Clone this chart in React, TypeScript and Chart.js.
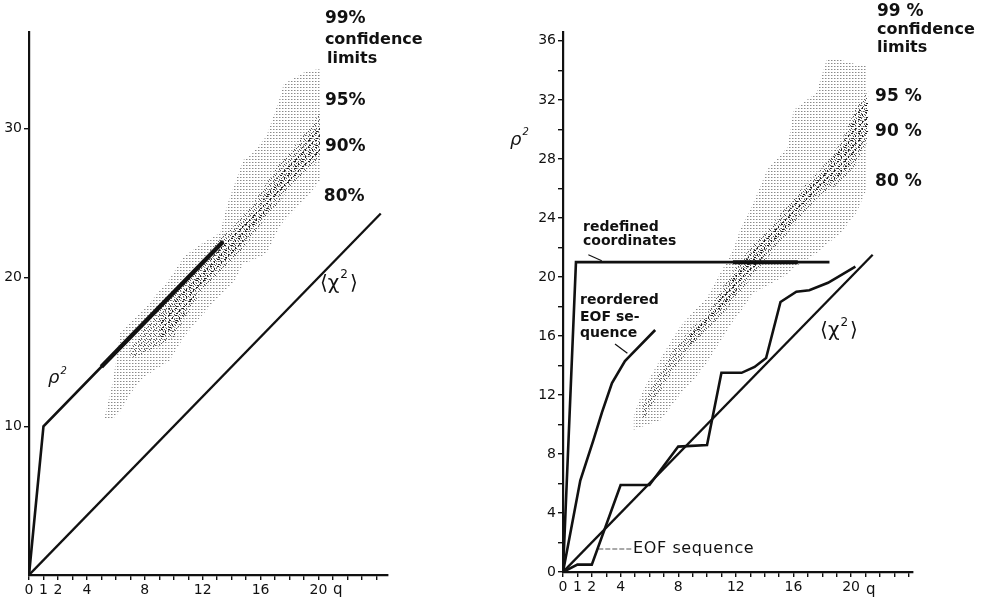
import React, { useEffect, useRef } from 'react';
import { Chart, registerables } from 'chart.js';
Chart.register(...registerables);

// ---------------- axis ticks ----------------
const xTickValues = [0, 1, 2, 3, 4, 5, 6, 7, 8, 9, 10, 11, 12, 13, 14, 15, 16, 17, 18, 19, 20, 21, 22, 23, 24];
const xLabeledValues = [0, 1, 2, 4, 8, 12, 16, 20];
const leftYTickValues = [10, 20, 30];
const leftYLabeledValues = [10, 20, 30];
const rightYTickValues = [0, 2, 4, 6, 8, 10, 12, 14, 16, 18, 20, 22, 24, 26, 28, 30, 32, 34, 36];
const rightYLabeledValues = [0, 4, 8, 12, 16, 20, 24, 28, 32, 36];

// ---------------- left panel data ----------------
const leftRhoQ = [0, 1, 13.4];
const leftRhoV = [0, 10, 22.4];
const leftRhoHeavyQ = [5, 13.4];
const leftRhoHeavyV = [14, 22.4];
const leftChiQ = [0, 24.3];
const leftChiV = [0, 24.3];

const leftB99Q = [5.2, 5.8, 6.3, 7.0, 7.9, 9.7, 10.7, 11.8, 13.2, 13.7, 14.1, 14.8, 15.3, 16.4, 17.3, 17.6, 19.2, 20.1];
const leftB99Hi = [10.5, 13.0, 16.3, 17.0, 17.8, 19.9, 21.4, 22.2, 23.0, 24.9, 26.0, 27.9, 28.2, 29.5, 32.0, 33.0, 33.9, 34.0];
const leftB99Lo = [10.5, 10.5, 11.0, 12.2, 13.3, 14.4, 16.0, 17.3, 18.8, 19.3, 19.6, 20.9, 21.1, 21.6, 23.4, 23.8, 25.4, 26.5];

const leftB95Q = [7.0, 8.0, 9.0, 10.0, 11.1, 11.8, 13.4, 14.1, 15.3, 16.2, 17.1, 18.0, 19.0, 20.1];
const leftB95Hi = [15.2, 16.6, 17.8, 18.9, 20.3, 21.0, 22.8, 23.4, 24.7, 26.0, 27.4, 28.4, 29.6, 31.0];
const leftB95Lo = [14.6, 14.9, 15.4, 16.0, 17.8, 18.9, 20.5, 21.1, 22.6, 23.8, 24.8, 26.1, 27.0, 27.9];

const leftB90Q = [9.0, 10.0, 11.8, 13.4, 15.3, 17.1, 19.0, 20.1];
const leftB90Hi = [17.3, 18.3, 20.3, 22.2, 24.0, 26.6, 28.9, 30.2];
const leftB90Lo = [15.8, 16.4, 19.3, 20.9, 23.0, 25.3, 27.4, 28.3];

// ---------------- right panel data ----------------
const rightChiQ = [0, 21.5];
const rightChiV = [0, 21.5];
const rightRedefQ = [0, 0.9, 18.5];
const rightRedefV = [0, 21, 21];
const rightRedefHeavyQ = [11.8, 16.3];
const rightRedefHeavyV = [21, 21];
const rightReordQ = [0, 1.2, 2.1, 2.7, 3.4, 4.3, 4.7, 6.4];
const rightReordV = [0, 6.2, 8.9, 10.8, 12.8, 14.3, 14.7, 16.4];
const rightEofQ = [0, 1, 2, 4, 6, 8, 10, 11, 12.4, 13.3, 14.1, 15.1, 16.2, 17.1, 18.4, 20.3];
const rightEofV = [0, 0.5, 0.5, 5.9, 5.9, 8.5, 8.6, 13.5, 13.5, 13.9, 14.5, 18.3, 19.0, 19.1, 19.6, 20.7];

const rightB99Q = [4.9, 5.6, 6.8, 8.1, 9.3, 10.0, 11.8, 12.3, 13.2, 14.2, 15.6, 16.0, 17.6, 18.3, 19.3, 20.4, 21.1];
const rightB99Hi = [10.6, 12.4, 14.5, 16.6, 17.9, 18.6, 21.8, 23.2, 25.0, 27.3, 28.8, 31.3, 32.5, 34.7, 34.7, 34.4, 34.3];
const rightB99Lo = [9.6, 9.9, 10.3, 12.0, 13.3, 14.2, 17.0, 17.6, 18.9, 19.4, 20.2, 20.6, 21.6, 22.2, 23.0, 24.4, 26.0];

const rightB95Q = [5.5, 6.3, 7.7, 8.8, 10.0, 11.1, 12.4, 13.5, 14.8, 16.5, 17.9, 19.3, 20.3, 21.2];
const rightB95Hi = [11.2, 12.8, 15.1, 16.4, 17.5, 19.3, 21.2, 22.5, 23.9, 25.9, 27.3, 29.1, 31.4, 32.6];
const rightB95Lo = [10.2, 11.5, 13.8, 15.1, 16.4, 17.5, 19.1, 20.5, 22.0, 24.1, 25.6, 26.4, 27.6, 29.3];

const rightB90Q = [8.8, 10.0, 11.1, 12.4, 13.5, 14.8, 16.5, 17.9, 19.3, 20.3, 21.2];
const rightB90Hi = [16.1, 17.2, 18.9, 20.8, 22.1, 23.5, 25.5, 27.0, 28.7, 31.0, 32.2];
const rightB90Lo = [15.4, 16.7, 17.9, 19.5, 20.9, 22.4, 24.5, 25.9, 26.9, 28.2, 29.8];

// leader lines (annotation pointers)
const leaderRedefQ = [1.76, 2.69];
const leaderRedefV = [21.5, 21.1];
const leaderReordQ = [3.61, 4.47];
const leaderReordV = [15.46, 14.83];
const leaderEofQ = [2.45, 4.77];
const leaderEofV = [1.56, 1.56];

// ---------------- text annotations ----------------
type TextItem = { text: string; sup?: string; after?: string; q: number; v: number; size: number; bold?: boolean; italic?: boolean; spacing?: number };

const leftTexts: TextItem[] = [
  { text: '99%', q: 20.44, v: 37.43, size: 17, bold: true },
  { text: 'confidence', q: 20.44, v: 35.95, size: 16, bold: true },
  { text: 'limits', q: 20.58, v: 34.68, size: 16, bold: true },
  { text: '95%', q: 20.44, v: 31.92, size: 17, bold: true },
  { text: '90%', q: 20.44, v: 28.83, size: 17, bold: true },
  { text: '80%', q: 20.37, v: 25.47, size: 17, bold: true },
  { text: '⟨χ', sup: '2', after: '⟩', q: 20.1, v: 19.6, size: 20 },
  { text: 'ρ', sup: '2', q: 1.31, v: 13.2, size: 18, italic: true },
  { text: 'q', q: 21.0, v: -1.0, size: 15 },
];

const rightTexts: TextItem[] = [
  { text: '99 %', q: 21.8, v: 37.97, size: 17, bold: true },
  { text: 'confidence', q: 21.8, v: 36.75, size: 16, bold: true },
  { text: 'limits', q: 21.8, v: 35.53, size: 16, bold: true },
  { text: '95 %', q: 21.67, v: 32.2, size: 17, bold: true },
  { text: '90 %', q: 21.67, v: 29.83, size: 17, bold: true },
  { text: '80 %', q: 21.67, v: 26.44, size: 17, bold: true },
  { text: '⟨χ', sup: '2', after: '⟩', q: 17.85, v: 16.34, size: 20 },
  { text: 'redefined', q: 1.39, v: 23.39, size: 14, bold: true },
  { text: 'coordinates', q: 1.39, v: 22.44, size: 14, bold: true },
  { text: 'reordered', q: 1.18, v: 18.44, size: 14, bold: true },
  { text: 'EOF se-', q: 1.18, v: 17.29, size: 14, bold: true },
  { text: 'quence', q: 1.18, v: 16.2, size: 14, bold: true },
  { text: 'EOF sequence', q: 4.86, v: 1.56, size: 16, spacing: 0.6 },
  { text: 'ρ', sup: '2', q: -3.68, v: 29.29, size: 18, italic: true },
  { text: 'q', q: 21.04, v: -1.22, size: 15 },
];

const FONT = '"DejaVu Sans", "Liberation Sans", sans-serif';
const INK = '#111';

const textPlugin = {
  id: 'panelTexts',
  afterDraw(chart: any, _args: any, opts: any) {
    const items: TextItem[] = (opts && opts.items) || [];
    const ctx = chart.ctx;
    const xs = chart.scales.x;
    const ys = chart.scales.y;
    ctx.save();
    ctx.fillStyle = INK;
    ctx.textBaseline = 'middle';
    ctx.textAlign = 'left';
    for (const it of items) {
      const f = (s: number) => `${it.italic ? 'italic ' : ''}${it.bold ? 'bold ' : ''}${s}px ${FONT}`;
      let x = xs.getPixelForValue(it.q);
      const y = ys.getPixelForValue(it.v);
      ctx.font = f(it.size);
      (ctx as any).letterSpacing = `${it.spacing || 0}px`;
      ctx.fillText(it.text, x, y);
      x += ctx.measureText(it.text).width;
      (ctx as any).letterSpacing = '0px';
      if (it.sup) {
        ctx.font = f(Math.round(it.size * 0.58));
        ctx.fillText(it.sup, x + 1, y - it.size * 0.42);
        x += ctx.measureText(it.sup).width + 3;
      }
      if (it.after) {
        ctx.font = f(it.size);
        ctx.fillText(it.after, x, y);
      }
    }
    ctx.restore();
  },
};

// ---------------- helpers ----------------
const pts = (q: number[], v: number[]) => q.map((x, i) => ({ x, y: v[i] }));

function makePattern(kind: 'light' | 'medium' | 'dark'): any {
  const c = document.createElement('canvas');
  const g = c.getContext('2d')!;
  if (kind === 'light') {
    c.width = 3; c.height = 3;
    g.fillStyle = '#8a8a8a';
    g.fillRect(0, 0, 1, 1);
    g.fillStyle = '#c8c8c8';
    g.fillRect(1, 0, 1, 1);
  } else if (kind === 'medium') {
    c.width = 5; c.height = 5;
    g.fillStyle = '#555';
    g.fillRect(0, 0, 1, 1);
    g.fillRect(3, 1, 1, 1);
    g.fillRect(1, 3, 1, 1);
    g.fillRect(4, 4, 1, 1);
  } else {
    c.width = 7; c.height = 7;
    g.fillStyle = '#222';
    g.fillRect(0, 0, 2, 1);
    g.fillRect(4, 2, 1, 2);
    g.fillRect(1, 5, 2, 1);
  }
  return g.createPattern(c, 'repeat');
}

const lineDs = (label: string, q: number[], v: number[], width: number, extra: any = {}) => ({
  label,
  data: pts(q, v),
  borderColor: INK,
  borderWidth: width,
  pointRadius: 0,
  tension: 0,
  fill: false,
  ...extra,
});

const bandDs = (label: string, q: number[], hi: number[], lo: number[], pattern: any) => [
  { label: label + ' upper', data: pts(q, hi), borderColor: 'rgba(0,0,0,0)', borderWidth: 1, pointRadius: 0, tension: 0, fill: false },
  { label: label + ' lower', data: pts(q, lo), borderColor: 'rgba(0,0,0,0)', borderWidth: 1, pointRadius: 0, tension: 0, fill: '-1', backgroundColor: pattern },
];

function scales(xMax: number, yMax: number, yTicks: number[], yLabeled: number[], yWidth: number) {
  const tickFont = { family: FONT, size: 14 };
  return {
    x: {
      type: 'linear',
      min: 0,
      max: xMax,
      afterBuildTicks: (s: any) => { s.ticks = xTickValues.map((v) => ({ value: v })); },
      afterFit: (s: any) => { s.height = 26; },
      ticks: {
        autoSkip: false, maxRotation: 0, minRotation: 0, padding: 2, color: INK, font: tickFont,
        callback: (v: any) => (xLabeledValues.includes(Number(v)) ? String(v) : ''),
      },
      grid: { drawOnChartArea: false, drawTicks: true, tickLength: 5, color: INK, lineWidth: 1.4 },
      border: { display: true, color: INK, width: 2.2 },
    },
    y: {
      type: 'linear',
      min: 0,
      max: yMax,
      afterBuildTicks: (s: any) => { s.ticks = yTicks.map((v) => ({ value: v })); },
      afterFit: (s: any) => { s.width = yWidth; },
      ticks: {
        autoSkip: false, padding: 2, color: INK, font: tickFont,
        callback: (v: any) => (yLabeled.includes(Number(v)) ? String(v) : ''),
      },
      grid: { drawOnChartArea: false, drawTicks: true, tickLength: 5, color: INK, lineWidth: 1.4 },
      border: { display: true, color: INK, width: 2.2 },
    },
  };
}

function leftConfig(): any {
  return {
    type: 'line',
    data: {
      datasets: [
        lineDs('ρ² heavy', leftRhoHeavyQ, leftRhoHeavyV, 4.5),
        lineDs('ρ²', leftRhoQ, leftRhoV, 2.6),
        lineDs('⟨χ²⟩', leftChiQ, leftChiV, 2.3),
        ...bandDs('80-90%', leftB90Q, leftB90Hi, leftB90Lo, makePattern('dark')),
        ...bandDs('95%', leftB95Q, leftB95Hi, leftB95Lo, makePattern('medium')),
        ...bandDs('99%', leftB99Q, leftB99Hi, leftB99Lo, makePattern('light')),
      ],
    },
    options: {
      animation: false,
      responsive: false,
      events: [],
      layout: { padding: { left: 0, top: 32, right: 92, bottom: 0 } },
      scales: scales(24.8, 36.5, leftYTickValues, leftYLabeledValues, 29),
      plugins: { legend: { display: false }, tooltip: { enabled: false }, panelTexts: { items: leftTexts } },
    },
    plugins: [textPlugin],
  };
}

function rightConfig(): any {
  return {
    type: 'line',
    data: {
      datasets: [
        lineDs('redefined heavy', rightRedefHeavyQ, rightRedefHeavyV, 4),
        lineDs('redefined coordinates', rightRedefQ, rightRedefV, 2.6),
        lineDs('reordered EOF sequence', rightReordQ, rightReordV, 2.6),
        lineDs('EOF sequence', rightEofQ, rightEofV, 2.6),
        lineDs('⟨χ²⟩', rightChiQ, rightChiV, 2.3),
        lineDs('leader redefined', leaderRedefQ, leaderRedefV, 1.2),
        lineDs('leader reordered', leaderReordQ, leaderReordV, 1.2),
        lineDs('leader EOF', leaderEofQ, leaderEofV, 1.2, { borderColor: '#555', borderDash: [5, 2] }),
        ...bandDs('80-90%', rightB90Q, rightB90Hi, rightB90Lo, makePattern('dark')),
        ...bandDs('95%', rightB95Q, rightB95Hi, rightB95Lo, makePattern('medium')),
        ...bandDs('99%', rightB99Q, rightB99Hi, rightB99Lo, makePattern('light')),
      ],
    },
    options: {
      animation: false,
      responsive: false,
      events: [],
      layout: { padding: { left: 43, top: 32, right: 71, bottom: 3 } },
      scales: scales(24.3, 36.6, rightYTickValues, rightYLabeledValues, 40),
      plugins: { legend: { display: false }, tooltip: { enabled: false }, panelTexts: { items: rightTexts } },
    },
    plugins: [textPlugin],
  };
}

function Panel({ make, left, width }: { make: () => any; left: number; width: number }) {
  const ref = useRef<HTMLCanvasElement | null>(null);
  useEffect(() => {
    if (!ref.current) return;
    const chart = new Chart(ref.current, make());
    return () => chart.destroy();
  }, []);
  return (
    <canvas
      ref={ref}
      width={width}
      height={601}
      style={{ position: 'absolute', left, top: 0, width, height: 601, display: 'block' }}
    />
  );
}

export default function App() {
  return (
    <div style={{ position: 'absolute', left: 0, top: 0, width: 984, height: 601, background: '#fff', overflow: 'hidden' }}>
      <Panel make={leftConfig} left={0} width={480} />
      <Panel make={rightConfig} left={480} width={504} />
    </div>
  );
}
